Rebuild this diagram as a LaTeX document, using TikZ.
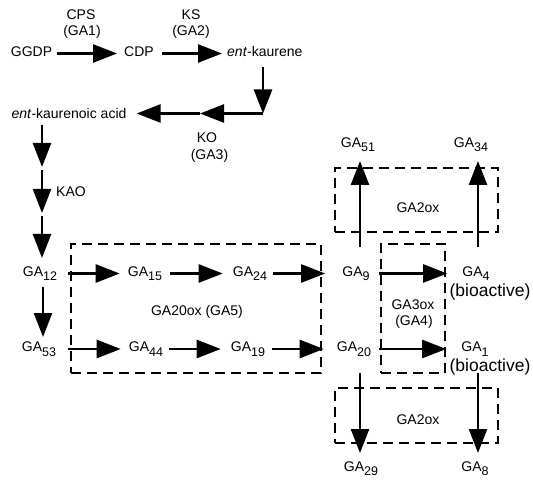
\documentclass[tikz,border=0pt]{standalone}
\usepackage{fontspec}
\setmainfont{Liberation Sans}
\usetikzlibrary{arrows.meta}
\newcommand\sbs[1]{\raisebox{-4.5pt}{\fontsize{12.5}{13}\selectfont #1}}
\begin{document}
\begin{tikzpicture}[x=1pt,y=-1pt,
  lbl/.style={font=\fontsize{14}{16}\selectfont, inner sep=0pt, anchor=mid},
  txt/.style={font=\fontsize{14}{16}\selectfont, inner sep=0pt},
  big/.style={font=\fontsize{17.5}{19}\selectfont, inner sep=0pt},
  arr/.style={line width=2.5pt, -{Triangle[length=24pt,width=18pt]}},
  enzbox/.style={draw, line width=2.5pt, dash pattern=on 10pt off 6pt, inner sep=0pt}]
\useasboundingbox (0,0) rectangle (533,481);

% dashed enzyme boxes
\node[enzbox, minimum width=250pt, minimum height=129pt] (b20) at (196,308.5) {};
\node[enzbox, minimum width=64pt, minimum height=129pt] (b3) at (413,308.5) {};
\node[enzbox, minimum width=163pt, minimum height=64pt] (b2u) at (416.5,200) {};
\node[enzbox, minimum width=163pt, minimum height=55pt] (b2d) at (416.5,415.5) {};

% top row
\node[lbl] (ggdp) at (31.5,53.5) {GGDP};
\node[lbl] (cdp) at (139,53.5) {CDP};
\node[lbl, anchor=mid west] (ek) at (227,53.5) {\textit{ent}-kaurene};
\node[txt] (cps) at (81,15) {CPS};
\node[txt] (cpsg) at (82,32) {(GA1)};
\node[txt] (ks) at (191,15) {KS};
\node[txt] (ksg) at (191,32) {(GA2)};
\draw[arr] ([xshift=5pt]ggdp.mid east) -- ([xshift=-7pt]cdp.mid west);
\draw[arr] ([xshift=8pt]cdp.mid east) -- ([xshift=-5pt]ek.mid west);

% ent-kaurene -> ent-kaurenoic acid
\node[lbl] (eka) at (69,115.5) {\textit{ent}-kaurenoic acid};
\coordinate (ekd1) at (263,67);
\coordinate (ekd2) at (263,113.5);
\coordinate (ekm) at (200,113.5);
\draw[arr] (ekd1) -- (ekd2);
\draw[arr] (ekd2) -- (ekm);
\draw[arr] (ekm) -- ([xshift=10pt]eka.mid east |- ekm);
\node[txt] (ko) at (207,138) {KO};
\node[txt] (kog) at (209.5,156) {(GA3)};

% left column
\coordinate (l1) at (42,125);
\coordinate (l2) at (42,167);
\coordinate (l3) at (42,170);
\coordinate (l4) at (42,213);
\coordinate (l5) at (42,216);
\coordinate (l6) at (42,258);
\draw[arr] (l1) -- (l2);
\draw[arr] (l3) -- (l4);
\draw[arr] (l5) -- (l6);
\node[lbl, anchor=mid west] (kao) at (56,194) {KAO};

% row 1
\node[lbl] (ga12) at (40,273.5) {GA\sbs{12}};
\node[lbl] (ga15) at (145,273.5) {GA\sbs{15}};
\node[lbl] (ga24) at (250,273.5) {GA\sbs{24}};
\node[lbl] (ga9) at (356,273.5) {GA\sbs{9}};
\node[lbl] (ga4) at (476,273.5) {GA\sbs{4}};
\node[big] (bio1) at (490,292) {(bioactive)};
\draw[arr] ([xshift=11pt]ga12.mid east) -- ([xshift=-8pt]ga15.mid west);
\draw[arr] ([xshift=8pt]ga15.mid east) -- ([xshift=-10pt]ga24.mid west);
\draw[arr] ([xshift=6pt]ga24.mid east) -- ([xshift=-17pt]ga9.mid west);
\draw[arr] ([xshift=9pt]ga9.mid east) -- ([xshift=-15pt]ga4.mid west);

% row 2
\node[lbl] (ga53) at (39,349) {GA\sbs{53}};
\node[lbl] (ga44) at (146,349) {GA\sbs{44}};
\node[lbl] (ga19) at (248,349) {GA\sbs{19}};
\node[lbl] (ga20) at (354,349) {GA\sbs{20}};
\node[lbl] (ga1) at (475,349) {GA\sbs{1}};
\node[big] (bio2) at (490,367) {(bioactive)};
\draw[arr] ([xshift=12pt]ga53.mid east) -- ([xshift=-8pt]ga44.mid west);
\draw[arr] ([xshift=6pt]ga44.mid east) -- ([xshift=-10pt]ga19.mid west);
\draw[arr] ([xshift=7pt]ga19.mid east) -- ([xshift=-13pt]ga20.mid west);
\draw[arr] ([xshift=8pt]ga20.mid east) -- ([xshift=-15pt]ga1.mid west);

% GA12 -> GA53
\coordinate (d1) at (43,287);
\coordinate (d2) at (43,337);
\draw[arr] (d1) -- (d2);

% enzyme labels
\node[txt] (l20) at (197,312) {GA20ox (GA5)};
\node[txt] (l3a) at (413,305) {GA3ox};
\node[txt] (l3b) at (414,322) {(GA4)};
\node[txt] (l2u) at (418,208) {GA2ox};
\node[txt] (l2d) at (418,420) {GA2ox};

% GA2ox products
\node[lbl] (ga51) at (358,144.5) {GA\sbs{51}};
\node[lbl] (ga34) at (471,144.5) {GA\sbs{34}};
\node[lbl] (ga29) at (361,468.5) {GA\sbs{29}};
\node[lbl] (ga8) at (475,468.5) {GA\sbs{8}};
\coordinate (u1s) at (360,247);
\coordinate (u2s) at (478,247);
\coordinate (w1s) at (360,373);
\coordinate (w2s) at (478,373);
\draw[arr] (u1s) -- (u1s |- 0,161);
\draw[arr] (u2s) -- (u2s |- 0,161);
\draw[arr] (w1s) -- (w1s |- 0,453);
\draw[arr] (w2s) -- (w2s |- 0,453);
\end{tikzpicture}
\end{document}
